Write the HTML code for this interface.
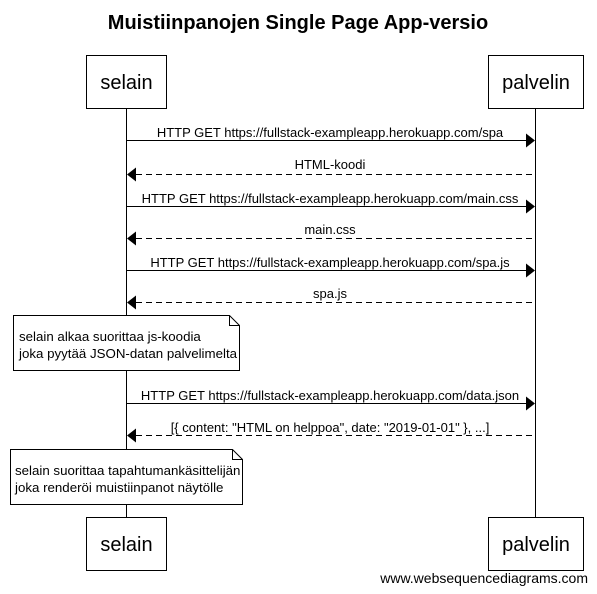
<!DOCTYPE html>
<html><head><meta charset="utf-8"><style>
html,body{margin:0;padding:0;background:#fff;}
svg{display:block;font-family:"Liberation Sans",Arial,sans-serif;}
</style></head><body>
<svg width="597" height="594" viewBox="0 0 597 594" xmlns="http://www.w3.org/2000/svg">
<rect width="597" height="594" fill="#fff"/>
<text x="298" y="29" text-anchor="middle" font-size="20" font-weight="bold">Muistiinpanojen Single Page App-versio</text>
<g stroke="#000" stroke-width="1" fill="#fff">
<line x1="126.5" y1="108" x2="126.5" y2="517"/>
<line x1="535.5" y1="108" x2="535.5" y2="517"/>
<rect x="86.5" y="55.5" width="80" height="53"/>
<rect x="488.5" y="55.5" width="95" height="53"/>
<rect x="86.5" y="517.5" width="80" height="53"/>
<rect x="488.5" y="517.5" width="95" height="53"/>
</g>
<g font-size="20" text-anchor="middle">
<text x="126.5" y="89">selain</text><text x="536" y="89">palvelin</text>
<text x="126.5" y="551">selain</text><text x="536" y="551">palvelin</text>
</g>
<g stroke="#000" stroke-width="1">
<line x1="126" y1="140.5" x2="526" y2="140.5"/>
<line x1="136" y1="174.5" x2="535" y2="174.5" stroke-dasharray="6,4"/>
<line x1="126" y1="206.5" x2="526" y2="206.5"/>
<line x1="136" y1="238.5" x2="535" y2="238.5" stroke-dasharray="6,4"/>
<line x1="126" y1="270.5" x2="526" y2="270.5"/>
<line x1="136" y1="302.5" x2="535" y2="302.5" stroke-dasharray="6,4"/>
<line x1="126" y1="403.5" x2="526" y2="403.5"/>
<line x1="136" y1="435.5" x2="535" y2="435.5" stroke-dasharray="6,4"/>
</g>
<g fill="#000">
<polygon points="526,133.5 535,140.5 526,147.5"/>
<polygon points="136,167.5 127,174.5 136,181.5"/>
<polygon points="526,199.5 535,206.5 526,213.5"/>
<polygon points="136,231.5 127,238.5 136,245.5"/>
<polygon points="526,263.5 535,270.5 526,277.5"/>
<polygon points="136,295.5 127,302.5 136,309.5"/>
<polygon points="526,396.5 535,403.5 526,410.5"/>
<polygon points="136,428.5 127,435.5 136,442.5"/>
</g>
<g font-size="13" text-anchor="middle">
<text x="330" y="137">HTTP GET https://fullstack-exampleapp.herokuapp.com/spa</text>
<text x="330" y="169">HTML-koodi</text>
<text x="330" y="203">HTTP GET https://fullstack-exampleapp.herokuapp.com/main.css</text>
<text x="330" y="234">main.css</text>
<text x="330" y="267">HTTP GET https://fullstack-exampleapp.herokuapp.com/spa.js</text>
<text x="330" y="298">spa.js</text>
<text x="330" y="400">HTTP GET https://fullstack-exampleapp.herokuapp.com/data.json</text>
<text x="330" y="432">[{ content: "HTML on helppoa", date: "2019-01-01" }, ...]</text>
</g>
<g stroke="#000" stroke-width="1" fill="#fff">
<polygon points="13.5,315.5 229.5,315.5 239.5,325.5 239.5,370.5 13.5,370.5"/>
<polyline points="229.5,315.5 229.5,325.5 239.5,325.5" fill="none"/>
<polygon points="10.5,449.5 232.5,449.5 242.5,459.5 242.5,504.5 10.5,504.5"/>
<polyline points="232.5,449.5 232.5,459.5 242.5,459.5" fill="none"/>
</g>
<g font-size="13.3">
<text x="19" y="341">selain alkaa suorittaa js-koodia</text>
<text x="19" y="358">joka pyytää JSON-datan palvelimelta</text>
<text x="15" y="475">selain suorittaa tapahtumankäsittelijän</text>
<text x="15" y="492">joka renderöi muistiinpanot näytölle</text>
</g>
<text x="588" y="583" text-anchor="end" font-size="14">www.websequencediagrams.com</text>
</svg>
</body></html>
